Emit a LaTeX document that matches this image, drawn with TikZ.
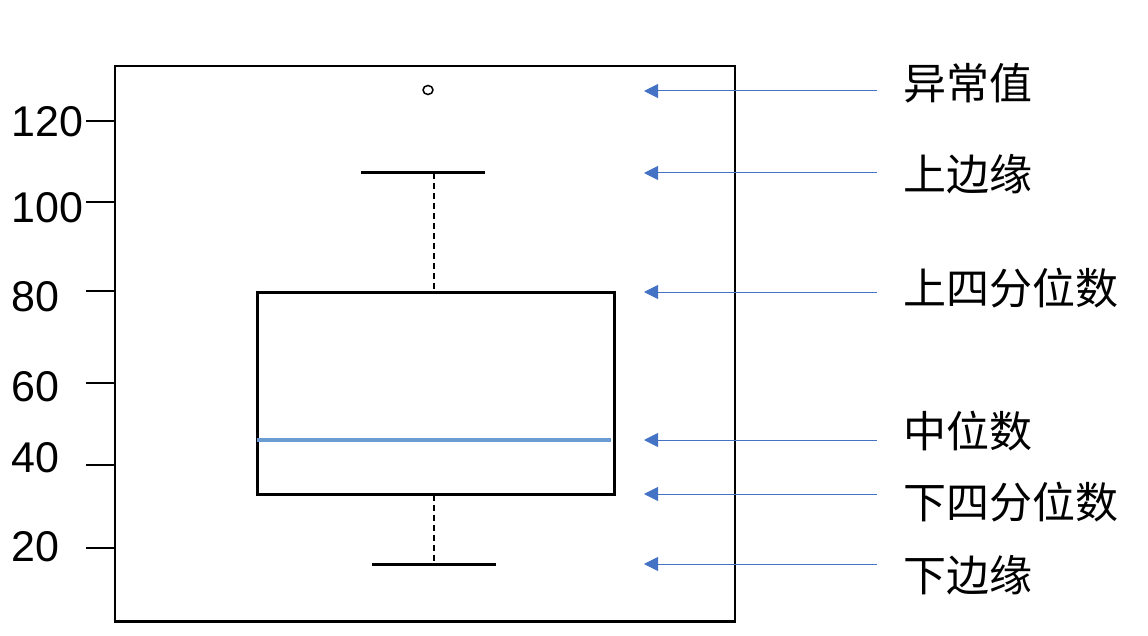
\documentclass[tikz,border=0pt]{standalone}
\usepackage{fontspec}
\setmainfont{Liberation Sans}
\newfontfamily\cjk{Noto Sans CJK SC}
\usetikzlibrary{arrows.meta}
\definecolor{arrowblue}{HTML}{4472C4}
\definecolor{medianblue}{HTML}{6A9BD2}

\tikzset{
  arrowline/.style={draw=arrowblue, line width=1pt, -{Triangle[length=14pt,width=14pt]}},
  whisker/.style={line width=3pt},
  stem/.style={line width=2.2pt, dash pattern=on 6pt off 4pt}
}

\begin{document}
\begin{tikzpicture}[x=1pt,y=-1pt]

% Sizes
\def\tailx{877}
\def\tipx{644}
\def\stemx{434}

\useasboundingbox (0,0) rectangle (1148,636);

% Frame
\node[draw, line width=2.5pt, minimum width=620pt, minimum height=555pt, anchor=north west, inner sep=0]
      (frame) at (113.5,65) {};

% Ticks and values
\foreach \y/\ly/\val in {121/122/120, 202/208/100, 291/297/80, 383/387/60, 465/458/40, 548/547/20} {
  \draw[line width=2.5pt] (86,\y) -- (114,\y);
  \node[anchor=west, inner sep=0, font=\fontsize{43}{43}\selectfont] (v\val) at (11,\ly) {\val};
}

% Box
\node[draw, line width=3pt, minimum width=357pt, minimum height=202pt, anchor=north west, inner sep=0]
      (box) at (255.5,291) {};
\draw[medianblue, line width=4pt] (257,440) -- (611,440);

% Whiskers
\draw[whisker] (361,173) -- (485,173);
\draw[stem] (\stemx,173) -- (\stemx,289.5);
\draw[stem] (\stemx,494.5) -- (\stemx,564);
\draw[whisker] (372,564) -- (496,564);

% Outlier
\draw[line width=1.5pt] (428,90) ellipse [x radius=5pt, y radius=4.5pt];

% Labels and arrows
\foreach \ay/\ty/\name/\text in {
91/83/outlier/异常值,
173/174/upper/上边缘,
292/288/qthree/上四分位数,
440/431/median/中位数,
494/502/qone/下四分位数,
564/575/lower/下边缘
} {
  \node[anchor=west, inner sep=0, font=\cjk\fontsize{43}{43}\selectfont] (\name) at (903,\ty) {\text};
  \coordinate (\name-tail) at (\tailx,\ay);
  \coordinate (\name-tip) at (\tipx,\ay);
  \draw[arrowline] (\name-tail) -- (\name-tip);
}

\end{tikzpicture}
\end{document}
